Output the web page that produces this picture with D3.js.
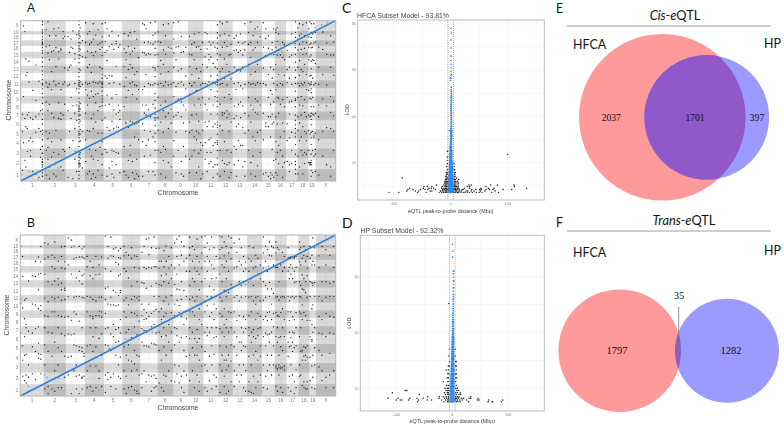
<!DOCTYPE html>
<html><head><meta charset="utf-8">
<script src="https://cdn.jsdelivr.net/npm/d3@7/dist/d3.min.js"></script>
<style>html,body{margin:0;padding:0;background:#fff}svg{display:block}text{font-family:"Liberation Sans",Arial,sans-serif}</style>
</head><body><svg id="c" width="784" height="428"></svg>
<script>
const chromLabels=["1","2","3","4","5","6","7","8","9","10","11","12","13","14","15","16","17","18","19","X"];
const chromEdgesA=[0,70,135,192,249,304,358,410,457,502,548,593,636,679,724,762,796,830,863,885,945];
const chromEdgesB=[0,70,137,194,251,306,360,412,459,504,550,595,638,681,726,764,800,835,868,888,947];
// rows: [peak position, probe positions...] in chromosome-label units
const transA=[
[0.58,7.2,1.4,5.3],[0.62,20.0,9.4,4.1],[0.68,19.3,6.7,2.3],[0.72,14.4,12.2,5.8,1.7],[0.78,12.6,7.1,3.2,5.6],[0.85,11.3,14.1,7.4,4.3],[0.92,3.3,2.7,4.6,6.8],[1.02,10.2,6.6,4.2,1.3],[1.15,13.6,8.9,6.9,5.2,1.1],[1.28,11.4,7.2,5.6,0.8],[1.35,5.3,3.4,7.6,2.6],
[1.43,20.4,20.1,19.6,19.2,18.7,18.1,17.6,17.2,17.0,16.9,16.7,16.2,15.7,15.3,14.6,14.0,13.4,12.8,12.3,11.6,11.1,10.9,10.4,9.8,9.3,8.5,7.7,7.2,6.6,6.1,5.4,5.0,4.4,3.7,3.0,2.4,2.2,2.1,1.9,1.7,1.4,1.2,0.9],
[1.6,19.6,16.4,11.2,8.7,5.3,3.3,1.0],[1.68,20.4,15.3,10.6,7.6,4.5,3.6,2.4],[1.75,18.3,16.6,14.3,11.0,8.4,5.1,1.7,0.7],[1.85,15.5,12.7,10.3,7.3,4.2,2.6],[1.95,19.7,15.7,11.4,6.8,3.1,1.1],[2.05,18.3,16.2,13.4,10.9,5.4,0.9],[2.18,19.8,15.5,14.4,11.1,8.6,6.7,2.9],[2.28,16.0,15.8,10.3,7.3,6.6,4.4,1.7],[2.38,19.3,17.8,11.0,7.1,3.4,1.4],[2.45,18.2,13.2,11.3,8.4,3.2],
[2.62,18.2,12.9,10.8,7.6,0.8],[2.7,15.4,13.3,11.0,5.3,3.6],[2.78,17.7,16.3,13.6,9.3,6.7],[2.88,19.5,16.1,8.2,4.3,0.7],[2.98,15.2,14.4,11.1,7.3,5.6,2.4],[3.08,18.5,10.4,8.3,6.5,3.1,1.3],
[3.2,20.5,20.1,19.5,18.9,18.4,17.8,17.1,16.5,16.1,15.6,15.0,14.5,13.9,13.1,12.6,12.0,11.5,11.2,11.0,10.8,10.4,9.9,9.2,8.7,8.3,8.1,7.9,7.7,7.5,7.2,7.0,6.6,6.2,5.8,5.3,5.1,4.9,4.6,4.2,3.7,3.2,2.9,2.6,2.3,2.1,2.0,1.9,1.7,1.3,1.0,0.7],
[3.26,19.8,18.2,17.0,15.9,14.9,12.9,11.3,10.7,8.5,7.8,7.1,6.4,5.5,5.0,4.3,3.1,2.5,2.0,1.8],
[3.38,17.4,14.7,11.0,5.3,1.6],[3.55,20.3,17.1,14.6,11.2,10.3,7.3,4.4,2.2],[3.65,18.7,15.6,13.3,11.0,9.6,8.3,5.4,1.1],[3.75,19.3,16.8,13.7,11.1,9.2,5.3,3.4,1.3],[3.85,17.1,15.4,12.6,10.1,6.7,2.7,0.7],[3.95,20.2,17.7,14.9,11.3,9.4,7.2,5.6,2.4,1.1],[4.08,18.4,15.5,11.2,9.7,8.6,6.3,3.3,0.8],[4.2,19.6,16.7,11.1,9.8,7.6,5.1,2.3,1.4],[4.3,17.0,15.9,13.3,11.3,8.1,4.3,3.6],
[4.42,20.2,18.1,17.2,16.3,14.9,13.1,12.3,11.8,11.3,11.1,11.0,10.6,10.1,9.5,9.1,8.7,8.2,6.5,5.1,4.2,2.9,1.9,1.0],
[4.58,20.3,17.3,15.4,12.1,8.3,6.8,3.4],[4.68,19.7,15.7,14.2,11.8,9.6,5.7,3.1,0.9],[4.8,18.3,16.4,12.2,11.1,8.4,5.4,1.6],[4.95,19.4,16.8,12.1,9.2,6.4,3.3,2.2,1.1],[5.05,15.9,11.2,7.7,5.6,3.2,0.8],[5.18,17.3,16.9,13.4,9.7,7.2,3.1,1.9],[5.3,18.3,16.3,8.3,7.4,5.7,3.0],[5.38,16.7,11.0,7.6,6.6,1.2],
[5.62,18.8,16.0,13.4,10.7,8.1,3.7,1.3],[5.72,15.4,14.3,11.9,9.3,6.2,1.0],[5.85,18.3,16.4,13.0,10.2,5.7,2.3,0.8],[5.95,19.0,15.1,13.7,11.1,6.4,3.8,2.8],[6.08,15.6,13.2,11.3,9.7,6.3,2.2,1.2],[6.2,19.3,16.1,12.3,10.9,6.1,4.7,0.7],[6.32,17.7,12.7,10.8,9.1,6.2,2.4,1.1],[6.42,14.6,10.3,6.3,4.4,0.9],
[6.65,20.2,15.4,10.3,8.3,6.1,4.2,0.9],[6.75,20.1,17.1,15.3,10.7,7.3,5.4,2.7],[6.85,19.7,15.0,12.3,8.3,7.1,3.8],[6.98,17.2,15.2,11.1,7.7,4.4,1.3],[7.1,20.3,17.0,15.1,10.9,6.9,5.3,2.8],[7.25,18.4,16.8,13.3,10.9,8.4,4.7,1.3],
[7.37,20.4,18.9,17.2,16.1,15.0,13.2,12.9,12.0,11.1,9.8,8.9,7.9,7.2,6.8,6.5,5.9,5.1,4.2,3.3,2.1,1.0],
[7.55,19.2,17.3,15.1,13.4,11.0,9.3,6.8,5.4,3.3],[7.72,17.1,14.2,12.4,11.1,8.3,6.3,3.1,1.1],[7.88,20.1,15.8,13.7,10.8,7.6,5.2,3.7,2.3],[8.02,18.3,15.1,11.3,8.8,6.9,3.4,0.8],[8.2,20.2,16.3,12.7,10.9,7.3,5.6,2.1],[8.38,16.1,11.0,7.8,6.2,1.7],
[8.55,20.3,17.7,15.3,13.3,11.2,9.4,6.9,4.3,2.7],[8.7,16.3,14.3,10.7,8.8,7.1,5.2,1.2],[8.85,20.4,16.4,12.8,11.1,9.1,7.4,3.3],[9.05,18.2,15.4,13.1,11.3,8.7,6.9,2.2,1.1],[9.2,15.5,10.9,8.3,6.2,3.7,0.9],[9.35,16.3,12.1,10.4,7.7,5.3,2.7],
[9.6,18.2,15.1,13.4,11.1,9.7,6.3,5.2,2.4,1.2],[9.75,16.8,15.0,12.3,10.8,7.1,5.4,2.7],[9.9,18.7,17.1,14.3,11.2,8.3,4.7,3.3],[10.05,16.3,13.1,10.2,7.2,5.3,4.4,1.2],[10.2,19.1,16.4,11.8,9.1,6.4,5.1,3.0,1.7],[10.33,15.9,12.7,10.9,8.3,4.1,3.3,0.7],[10.45,17.1,13.7,11.1,9.3,5.4,3.8,1.1],
[10.62,19.1,14.7,11.1,8.4,6.3,4.1,2.4],[10.75,18.7,16.0,13.3,10.9,7.7,5.8,3.1,1.3],[10.88,17.2,15.1,14.3,11.3,9.1,6.4,4.4,2.0],[11.0,16.7,14.7,12.1,10.3,7.2,4.6,3.1,2.2],[11.15,17.1,13.8,11.2,8.3,5.8,3.8,1.7,0.8],[11.28,16.3,13.3,11.1,9.4,6.1,4.1,1.9],
[11.43,20.1,19.0,17.9,17.0,16.1,15.2,14.3,13.1,12.2,11.6,11.2,10.9,10.1,9.3,8.8,8.1,7.2,6.3,6.0,5.7,5.0,4.3,4.1,3.9,3.3,2.5,1.9,1.1],
[11.62,20.4,18.3,15.0,12.7,11.0,8.4,5.9,3.3,0.9],[11.78,20.2,16.3,13.1,11.1,7.4,7.1,5.4,2.3],[11.92,18.7,17.1,14.4,11.8,9.3,7.3,4.2,2.0,1.3],[12.1,20.4,16.4,13.7,10.9,7.6,6.8,3.3,1.9],[12.25,18.3,15.0,12.7,9.7,7.2,5.3,2.1,0.8],[12.38,16.8,15.1,11.7,9.1,6.3,3.1,1.2],
[12.6,17.8,15.7,13.3,11.1,8.2,6.7,3.7,1.9],[12.75,18.3,15.8,12.9,10.3,7.0,5.8,3.4,0.9],[12.9,17.1,15.4,13.0,11.2,8.4,6.1,4.3,2.3],[13.05,18.7,15.7,12.8,10.8,8.7,6.8,3.8],[13.2,17.0,15.0,13.3,10.4,8.2,5.7,3.8,1.7],[13.35,20.2,17.2,15.8,11.0,7.3,5.1,2.2,0.9],
[13.6,19.1,16.8,13.7,11.2,9.3,7.0,5.4,3.3],[13.75,20.4,17.1,14.6,12.3,11.0,8.3,6.3,2.1,1.1],[13.9,18.3,15.8,11.1,7.7,4.7,2.7],[14.05,19.7,16.2,12.7,10.9,9.1,7.4,4.3,0.9],[14.2,19.9,17.1,13.7,11.2,8.8,7.2,5.2,1.8],[14.38,18.1,14.3,11.1,8.3,5.4,3.1],
[14.6,20.3,16.3,13.2,11.1,7.3,4.4,1.1],[14.8,19.7,17.8,14.9,10.9,6.2,5.8,1.2],[15.0,18.3,16.1,12.3,9.3,6.9,5.8,0.9],[15.18,15.1,13.3,10.2,8.4,6.9,4.7,1.2,0.7],[15.3,17.1,15.8,11.8,9.7,7.2,6.1,3.4,1.0],[15.42,19.7,15.1,13.0,11.1,8.7,6.3,2.3,0.8],
[15.6,19.6,19.1,16.3,13.7,10.3,6.9,4.2,2.4,1.2],[15.72,19.8,17.3,15.0,10.9,9.3,6.1,3.1,1.0],[15.85,18.7,15.7,12.3,9.2,7.3,3.8,2.0],[16.0,15.0,11.1,8.4,4.7,3.3],[16.2,17.1,14.6,10.9,9.0,6.2,2.7,1.7,0.8],[16.35,16.8,14.3,12.2,8.1,5.3,2.1],
[16.6,15.7,13.0,11.2,9.3,6.1,4.3,2.2],[16.8,14.7,13.3,11.8,8.7,7.2,4.6,1.9,1.3],[17.0,18.7,15.0,11.0,8.8,5.2,3.3,2.0],
[17.33,20.4,19.1,18.0,17.3,16.9,16.2,15.1,14.0,12.9,11.9,11.1,10.1,9.1,8.9,8.1,7.1,6.5,6.0,5.6,5.1,4.7,3.9,2.9,2.2,1.9,1.5,1.1],
[17.55,19.8,17.7,15.8,13.3,11.1,9.3,6.9,5.4,2.7,1.1],[17.7,20.2,18.3,16.8,14.2,12.2,10.8,8.3,6.2,4.3,1.7],[17.85,18.7,15.9,13.0,11.1,9.4,7.1,4.7,3.3],[18.0,20.1,17.2,15.1,12.7,10.9,8.2,5.8,2.8,1.1],[18.15,18.3,16.1,13.7,11.2,9.0,7.4,5.3,3.1,2.0],[18.32,20.3,17.1,15.2,12.3,10.3,6.9,5.1,4.3,2.9],
[18.55,19.7,18.1,16.3,14.3,11.1,10.2,7.1,5.4,3.3,2.1],[18.72,20.4,16.8,14.7,12.1,10.9,9.2,6.9,5.0,2.1,2.0,1.9],[18.88,20.2,19.1,18.0,17.0,16.2,15.0,14.1,13.1,12.2,11.3,11.0,10.4,9.9,9.1,8.1,7.3,7.0,6.6,6.0,5.2,4.6,3.9,2.9,2.3,2.1,1.9,1.4,0.9],
[19.08,18.7,16.3,14.3,11.8,9.3,7.2,5.3,3.3,1.2],[19.25,20.2,17.0,14.2,10.9,8.1,7.1,4.8,4.6,2.7],[19.45,19.1,17.2,13.8,11.1,7.3,5.1,3.4,2.9,1.3],
[19.65,16.3,13.3,11.0,8.3,6.9,4.4,1.0],[19.85,19.2,15.9,12.3,9.1,5.3,2.7],[20.05,17.0,15.1,10.9,8.2,5.7,1.9],[20.25,18.3,15.0,13.3,9.4,7.4,5.6,1.7,0.9],[20.4,17.2,15.0,12.2,8.8,7.0,5.3,3.3]
];
const transB=[
[0.52,19.1,11.0,10.4,6.7,5.3],[0.6,17.1,14.0,9.8,5.3,3.8,2.2],[0.68,10.8,8.4,6.3,4.3,1.8],[0.75,11.0,7.7,7.3,4.4,2.3,1.6],[0.85,13.4,6.9,3.3,2.1],[1.02,14.1,10.3,6.7,5.2,2.4],[1.15,16.3,14.0,10.2,7.2,4.7,1.9],[1.28,17.0,14.3,12.2,9.7,7.4,5.6,4.5,4.0],[1.38,19.1,16.2,14.4,10.1,9.5,4.4,3.9,2.4],
[1.55,19.7,16.7,14.3,11.1,8.8,7.3,5.4,3.3,1.1],[1.7,19.6,17.0,13.3,10.6,8.7,6.8,4.7,1.3,0.7],[1.88,17.3,15.4,12.9,11.2,9.3,6.7,4.2,1.1],[2.0,19.8,16.9,15.1,13.4,11.0,9.3,5.7,2.7,0.9],[2.15,16.3,13.7,12.9,11.2,8.8,7.3,5.1,3.3,1.2],[2.3,19.0,17.1,15.2,13.1,12.2,10.8,8.7,6.6,4.7,1.2],[2.45,19.1,16.2,15.1,12.4,12.1,10.9,8.6,6.4,4.2,2.1],
[2.62,20.2,15.7,11.3,8.7,6.6,4.1,2.3],[2.78,20.0,18.9,14.3,8.2,6.5,4.2,0.7],[2.92,19.2,16.7,11.2,9.3,6.6,5.4,2.7],[3.05,16.9,13.8,11.3,9.0,5.3,3.3,2.2,1.1],[3.2,19.1,17.0,14.7,13.4,11.3,8.1,5.2,4.8,2.3,0.7],[3.35,18.4,17.0,14.1,13.0,11.2,7.3,5.1,4.7,2.1,2.0,1.1],[3.45,19.0,16.8,14.3,11.1,4.5,4.2,2.2],
[3.62,17.1,15.4,11.3,9.3,5.3,2.7,1.2],[3.78,16.3,14.1,11.2,8.8,7.3,5.4,3.2,1.3],[3.92,15.3,13.7,10.9,8.7,8.4,6.3,4.7,0.9],[4.08,17.1,14.2,10.7,8.8,7.3,5.2,3.2,1.2],[4.25,15.7,14.3,11.2,9.4,8.8,6.1,2.7,2.0],[4.38,17.0,11.2,9.3,8.6,6.6,4.3,1.3],
[4.58,20.4,15.1,12.4,10.9,9.1,7.2,5.4,2.3,0.8],[4.72,19.1,16.8,12.6,10.3,7.3,5.3,2.5,1.9],[4.88,20.3,17.2,14.7,11.2,10.2,6.6,4.8,2.1,1.3],[5.02,18.4,17.1,12.1,10.2,7.7,6.3,2.4],[5.15,18.7,16.1,11.8,10.1,7.1,5.7,4.3,1.1],[5.3,18.1,16.9,15.8,14.1,11.4,10.2,7.3,5.8,3.3,2.2],[5.4,18.5,16.8,14.3,12.1,11.8,8.3,6.7,4.1,2.0],
[5.6,19.1,17.2,15.1,10.8,9.3,5.2,2.7,1.1],[5.72,17.8,14.7,11.1,8.6,6.8,4.3,2.2,0.7],[5.85,17.3,13.8,10.2,7.1,5.4,3.8,1.2],[6.02,18.7,16.8,12.7,10.9,9.2,6.2,3.7,2.7,1.3],[6.18,17.2,15.3,11.3,9.1,7.4,4.8,3.4,1.0],[6.32,17.1,13.3,11.1,8.8,6.5,4.3,2.8,0.9,0.7],[6.44,15.2,11.3,10.8,8.1,4.2,2.3,0.7],
[6.6,17.8,13.2,10.3,8.8,7.2,5.7,2.4,1.2],[6.72,19.1,15.3,13.1,9.6,8.3,7.0,5.3,2.7],[6.85,20.1,15.1,12.4,9.2,8.4,6.8,5.3,1.7],[7.0,20.2,17.4,15.3,10.3,8.7,5.2,2.3],[7.15,18.7,15.2,12.7,9.1,7.4,5.6,2.2,0.9],[7.3,20.3,15.4,11.3,9.4,7.7,5.5,2.3,1.2],[7.42,18.5,15.4,13.1,9.6,6.7,5.4,2.0,1.3],
[7.6,18.6,16.3,15.2,12.9,11.3,9.3,6.8,4.8,1.6],[7.75,16.3,14.1,12.8,9.7,8.3,6.3,3.8,1.2],[7.9,18.1,15.4,13.3,10.7,8.7,7.3,5.2,2.3,0.9],[8.05,19.2,16.3,14.3,11.2,9.1,6.4,4.3,2.2],[8.22,17.1,15.2,13.1,10.3,7.7,5.7,2.7],[8.38,18.7,15.7,13.7,11.4,9.2,6.8,4.8,1.8],
[8.6,19.7,15.2,12.9,10.3,8.8,7.3,5.4,3.3,1.7],[8.75,20.1,17.1,14.3,12.3,10.8,7.2,6.4,2.4],[8.9,20.4,15.7,12.2,10.1,9.2,5.7,3.2,1.6],[9.05,19.8,17.3,13.3,10.9,8.7,6.2,2.2,1.2],[9.22,19.1,16.3,12.1,9.3,7.7,4.8,2.7,0.8],[9.38,16.8,14.7,11.3,9.4,8.4,6.3,4.2,2.3],
[9.6,20.3,18.7,17.3,14.7,12.8,10.9,9.4,7.3,6.1,4.3,1.8],[9.78,19.1,16.3,13.7,11.2,9.3,6.8,5.1,2.7],[9.92,18.3,15.2,13.3,10.7,8.8,6.1,4.3,1.2],[10.08,20.1,17.1,14.7,11.3,7.1,5.7,4.3,2.3],[10.22,16.2,14.3,12.2,9.7,8.3,6.1,3.8,1.7,0.9],[10.38,20.3,17.7,15.2,13.3,10.3,7.7,5.2,3.2],
[10.6,20.4,18.8,16.3,13.7,10.7,9.3,6.8,4.7,3.3,1.2],[10.75,19.7,17.1,14.7,11.3,10.1,7.3,6.4,2.7,0.9],[10.9,18.3,16.3,12.7,10.9,8.7,6.8,4.2,1.8],[11.05,20.3,15.7,13.7,11.2,9.2,7.3,5.3,3.3,1.1],[11.2,18.7,15.1,12.2,10.3,8.3,6.2,4.4,2.3],[11.35,17.1,13.8,11.3,9.7,7.3,6.3,2.1,1.3],
[11.6,20.4,18.3,16.8,14.3,11.2,9.1,7.2,5.3,3.3,0.8],[11.75,20.3,18.7,15.7,13.3,10.7,8.7,6.8,4.3,2.7],[11.9,19.8,17.2,15.3,12.1,9.7,7.7,6.3,3.8,2.2,1.3],[12.05,19.1,16.3,13.7,11.3,8.3,7.3,5.2,3.8,2.8,0.7],[12.2,20.4,17.7,14.7,11.8,9.3,6.8,4.3,3.2,0.9],[12.38,20.2,18.7,16.7,12.9,9.2,7.3,5.4,3.7,1.7],
[12.6,19.7,15.2,11.2,9.3,6.8,5.2,2.7,1.3],[12.78,17.8,15.4,11.4,8.2,6.3,4.3,2.3],[12.95,20.1,16.3,13.3,10.7,8.8,5.7,3.3,1.7],[13.1,18.7,15.7,12.8,11.2,7.3,5.7,4.8,2.3],[13.25,17.1,14.7,13.3,8.7,6.8,5.3,3.3,1.2],[13.4,16.2,15.1,11.3,8.3,7.2,5.2,2.7,0.9],
[13.62,19.2,16.7,14.7,11.2,8.8,7.3,6.4,4.2,1.7,0.9],[13.78,16.3,13.7,11.3,9.3,6.8,5.7,3.3,0.8],[13.92,18.7,15.2,12.8,10.7,7.1,6.3,4.3,2.2,0.7],[14.08,17.3,15.4,11.2,10.3,8.3,6.1,4.7,1.2],[14.22,16.8,14.3,11.3,9.1,7.2,6.4,3.8,1.7],[14.38,15.7,13.7,10.7,8.7,7.3,5.3,4.2,2.3],
[14.6,20.3,17.7,15.2,13.3,10.8,8.3,6.3,3.3,1.2],[14.78,19.2,16.3,12.8,11.2,8.7,6.7,5.3,2.2],[14.92,18.3,14.7,12.3,9.2,8.2,6.5,4.3,2.7,1.1],[15.08,19.8,17.3,13.2,11.3,9.3,6.6,5.7,3.3],[15.25,19.1,17.2,12.3,10.3,8.3,6.8,4.3,2.3],[15.4,18.7,15.7,11.7,9.1,7.4,5.3,3.3],
[15.6,19.8,17.7,15.3,11.2,9.2,6.3,3.2,3.0,1.3],[15.72,18.7,15.3,11.3,8.8,7.3,5.7,2.9,2.8,0.9],[15.85,18.3,13.3,10.8,8.7,6.2,4.3,3.3,3.0,2.3],[16.0,15.7,11.2,9.2,6.3,5.2,3.1,2.9,1.2],[16.15,17.8,14.7,11.3,9.7,7.3,4.8,3.0,0.8],[16.3,17.1,15.3,11.2,8.3,6.3,3.2,2.8],
[16.62,18.7,16.8,14.7,11.3,9.3,5.7,4.2,1.2],[16.72,16.9,16.8,15.3,13.7,10.7,8.2,6.8,5.2,2.2],[16.85,17.0,16.9,15.7,14.3,11.2,9.3,6.2,5.3,3.3,0.9],[17.0,17.1,16.9,15.2,13.7,11.3,8.7,6.8,5.7,4.7,2.3],[17.15,17.0,16.8,14.7,13.2,11.1,8.3,6.7,5.1,1.7,0.7],[17.3,17.1,15.3,13.3,11.3,9.2,7.3,5.3,2.8,1.2],
[17.6,19.8,18.3,16.2,13.3,11.3,9.3,6.3,3.3,2.2],[17.72,18.7,15.7,12.8,11.2,9.1,7.3,4.7,2.3],[17.85,16.8,14.2,12.3,10.2,8.3,4.8,3.8,1.4],[18.0,19.1,17.3,13.7,12.2,9.2,5.2,4.2,1.7,1.2],[18.15,18.3,16.3,13.3,11.8,8.8,5.1,4.3,3.8,1.1],[18.3,17.1,15.2,14.1,11.2,8.2,5.3,4.1,1.7,1.1],
[18.6,19.1,16.8,13.3,11.3,8.2,6.3,4.1,1.8],[18.88,17.3,15.7,13.2,9.7,7.7,6.0,5.8,3.2,1.2],[19.02,20.2,16.3,13.1,12.8,10.2,6.8,4.3,2.1],[19.3,18.7,15.7,13.2,11.3,7.3,5.1,3.3,1.1],
[19.65,17.2,15.3,11.3,8.7,6.7,4.8,3.1],[19.8,19.1,13.3,10.7,8.3,6.6,4.3,2.7,1.8],[20.0,18.3,15.7,13.3,11.2,9.1,6.3,2.1,1.2],[20.2,17.3,13.1,11.3,8.7,6.7,4.5,2.3],[20.4,19.1,15.3,13.3,11.3,8.6,6.6,2.7,1.2]
];
const cisLine=[[0.5,0.5],[20.5,20.5]];
const cisOffA=[[0.55,1.02],[0.85,1.3],[1.0,1.0],[1.25,0.62],[1.55,2.5],[2.0,1.9],[2.15,1.6],[3.0,3.2],[3.25,4.2],[3.22,2.75],[3.25,2.9],[5.2,5.8],[5.7,6.3],[6.1,6.0],[5.95,5.85],[6.9,7.05],[7.35,6.7],[7.45,6.75],[7.35,7.4],[9.0,9.2],[11.1,11.3],[13.1,13.0],[13.4,12.95],[14.3,14.3],[15.1,15.2],[16.1,15.6],[17.3,16.9],[19.4,19.8],[19.8,20.1],[20.0,19.95],[20.1,20.3]];
const cisOffB=[[0.85,1.3],[1.55,2.3],[1.65,2.1],[2.2,2.0],[2.95,2.9],[4.75,4.85],[4.8,5.05],[5.85,5.9],[5.7,6.05],[6.85,7],[7.2,6.8],[7.75,8.0],[9.1,8.8],[9.6,9.6],[11.0,11.3],[13.4,12.9],[13.6,13.2],[15.0,15.5],[15.7,16.5],[17,17],[18.4,17.7],[19.4,19.4],[20,20.4]];
// rows: [LOD, distance...]
const transC=[
[7.2,-108,-91,-58,-43,-20,-16,-13,-10,-8,-6,7,9,12,14,18,22,25,29,33,38,45,50,55,72,84],
[7.8,-77,-62,-56,-36,-33,-18,-15,-12,-9,-7,8,10,13,16,19,27,30,36,41,52,60,78],
[8.4,-75,-66,-53,-45,-40,-27,-14,-11,-8,-6,6,8,11,15,20,22,37,44,51,54,62,68,74,92,107],
[9,-72,-48,-38,-34,-30,-16,-12,-9,-7,7,9,12,14,24,33,53,66,76,133],
[9.7,-47,-41,-33,-15,-10,-8,-6,6,8,10,13,29,33,62,112],
[10.4,-25,-12,-9,-7,7,9,13,32,36,70,82,111],
[11.2,-11,-9,-7,-6,6,8,11,14],[12,-10,-8,-6,7,9,12],[12.8,-9,-7,6,8,14],[13.4,-85,-8,-6,6,10],[14.2,-9,-7,6,8],[15,-7,-6,7],[15.8,-8,-6,6,8],[17,-6,6,7],[18.4,-7,6],[19.6,-6,6],[21,-6],[22.5,-6],[25,-6,-5],[23.6,100]
];
const cisC=[
[7.2,-4.6,-3.8,-3,-2.2,-1.4,-.6,.2,1,1.8,2.6,3.4,4.2,5],[7.8,-4.8,-4,-3.2,-2.4,-1.6,-.8,0,.8,1.6,2.4,3.2,4,4.8],[8.4,-4.6,-3.8,-3,-2.2,-1.4,-.6,.2,1,1.8,2.6,3.4,4.2,5],[9,-4.4,-3.4,-2.3,-1.2,0,1.2,2.3,3.4,4.4],[9.6,-4.6,-3.6,-2.7,-1.8,-.9,0,.9,1.8,2.7,3.6,4.6],[10.2,-4.2,-3.2,-2.1,-1,0,1,2.1,3.2,4.2],[10.8,-4.1,-3,-1.9,-.9,.2,1.2,2.2,3.2,4.1],[11.4,-4,-2.9,-1.8,-.7,.3,1.4,2.5,3.6],[12,-3.8,-2.7,-1.6,-.5,.6,1.7,2.7,3.7],[12.6,-3.6,-2.6,-1.5,-.4,.7,1.8,2.9,3.8],[13.2,-3.5,-2.4,-1.2,-.2,.9,2,3.1],[13.8,-3.3,-2.2,-1,0,1.1,2.2,3.4],[14.4,-3.1,-2,-.9,.2,1.3,2.4,3.4],[15,-3,-1.9,-.7,.4,1.5,2.6],[15.6,-3,-1.8,-.6,.5,1.6,2.8],[16.2,-2.8,-1.6,-.4,.7,1.8,3],[16.8,-2.7,-1.4,-.2,.9,2,3.1],[17.4,-2.6,-1.3,0,1.1,2.2,3],[18,-2.4,-1.2,.1,1.3,2.4,3.1],[18.6,-2.3,-1,.2,1.4,2.6],[19.2,-2.2,-.9,.3,1.5,2.7],[19.8,-2.1,-.8,.4,1.7,2.5],[20.4,-2,-.6,.6,1.8,2.6],[21,-1.9,-.5,.7,1.9],[21.6,-1.8,-.4,.8,2],[22.2,-1.7,-.3,.9,2.1],[22.8,-1.6,-.2,1,2.2],[23.4,-1.5,-.1,1.1,2.1],[24,-1.4,0,1.2,2.2],[24.6,-1.3,.1,1.3,2],[25.2,-1.2,.2,1.4,2.1],[25.8,-1.1,.3,1.5],[26.4,-1,.4,1.6],[27,-1.2,0,.5,1.7],[27.7,-.8,.6,1.7],[28.4,-.7,.7,1.8],[29.1,-.6,.8,1.9],[29.8,-.5,.9,1.7],[30.5,-.4,1,2],[31.2,-.3,1.1,1.8],[31.9,-.2,1.2,2.1],[32.6,-.1,1.3],[33.3,0,1.4,1.9],[33.9,-1.8,-.9,0,.5,1.7,2.4],[34.7,.1,1.5],[35.5,.2,1.6],[36.3,.3,1.7],[37.1,.4,1.8],[37.9,.5,1.6],[38.7,.6,1.5],[39.5,.7,1.3],[40.3,.2,1.2],[41.1,.4,1.4],[41.9,.3,1.5],[42.7,.5,1.2],[43.5,.2,1.3],[44.3,.6,1.4],[45.1,.4,1.2],[45.9,.7,1.5],[46.7,.5,1.1],[47.5,.8,1.4],[48.3,.6,1.3],[49.1,.9,1.5],[49.9,.7,1.2],[50.7,.9,1.4],[51.5,.8,1.2],[52.6,1,1.3],[55.5,-.8],[56.5,-.4,.5],[57.5,.2],[58.2,1],[59.5,.6],[61,.3],[62.5,.5],[64,.6],[66,.4],[69.5,.7],[73,.4],[76,.9],[78,.5]
];
const transD=[
[7.6,-62,-15,-9,-6,7,10,14,29,64,71,72,88],[7.9,-100,-93,-90,-78,-60,-45,-37,-19,-12,-8,-6,6,9,13,18,26,45,48,65,90],[8.2,-115,-97,-76,-63,-52,-24,-14,-10,-7,6,8,11,16,20,30,33,46],[8.5,-44,-23,-16,-11,-7,6,9,12,33],[8.9,-59,-12,-8,-6,7,12,15],[9.2,-107,-14,-9,-7,6,9,14],[9.6,-84,-81,-11,-8,-6,8,11],[10,-13,-9,-7,6,9],[10.5,-10,-7,-6,7],[11.2,-16,-8,-6,6],[11.9,-9,-7,6,8],[12.6,-8,-6,6,7],[13.3,-11,-7,7],[14,-7,-5,6,7],[14.8,-5,6,7],[15.8,-6,5],[17,-5,5],[25.2,-6]
];
const cisD=[
[7.6,-3.6,-2.6,-1.6,-.6,.4,1.4,2.4,3.4],[7.9,-3.2,-2.2,-1.2,-.2,.8,1.8,2.8,3.8],[8.2,-3.6,-2.6,-1.6,-.6,.4,1.4,2.4,3.4],[8.5,-3.2,-2.2,-1.2,-.2,.8,1.8,2.8],[8.8,-3.4,-2.4,-1.4,-.4,.6,1.6,2.6,3.6],[9.1,-3,-2,-1,0,1,2,3],[9.4,-3.3,-2.3,-1.3,-.3,.7,1.7,2.7],[9.7,-2.9,-1.9,-.9,.1,1.1,2.1,3.1],[10,-3.2,-2.2,-1.2,-.2,.8,1.8,2.8],[10.3,-2.8,-1.8,-.8,.2,1.2,2.2,3.2],[10.6,-3,-2,-1,0,1,2,3],[10.9,-2.6,-1.6,-.6,.4,1.4,2.4,3.2],[11.2,-2.8,-1.8,-.8,.2,1.2,2.2,3],[11.5,-2.4,-1.4,-.4,.6,1.6,2.6,3.3],[11.8,-2.6,-1.6,-.6,.4,1.4,2.4],[12.1,-2.2,-1.2,-.2,.8,1.8,2.8],[12.4,-2.4,-1.4,-.4,.6,1.6,2.6,3.2],[12.7,-2,-1,0,1,2,3],[13,-2.2,-1.2,-.2,.8,1.8,2.8],[13.3,-1.8,-.8,.2,1.2,2.2,3.1],[13.6,-2,-1,0,1,2,3],[13.9,-1.6,-.6,.4,1.4,2.4],[14.2,-1.8,-.8,.2,1.2,2.2,3.2],[14.5,-1.4,-.4,.6,1.6,2.6],[14.8,-1.6,-.6,.4,1.4,2.4],[15.1,-1.2,-.2,.8,1.8,2.8],[15.4,-1.4,-.4,.6,1.6,2.6],[15.7,-1,0,1,2,3],[16,-1.2,-.2,.8,1.8,2.8],[16.3,-.8,.2,1.2,2.2],[16.6,-1,0,1,2,2.8],[16.9,-.6,.4,1.4,2.4],[17.2,-.8,.2,1.2,2.2],[17.5,-.4,.6,1.6,2.6],[17.8,-.6,.4,1.4,2.4],[18.1,-.2,.8,1.8,2.6],[18.4,-.4,.6,1.6,2.4],[18.7,0,1,2,2.8],[19,-.2,.8,1.8,2.6],[19.3,.2,1.2,2.2],[19.6,0,1,2],[19.9,.4,1.4,2.4],[20.3,.2,1.2,2.2],[20.7,.6,1.6,2.6],[21.1,.4,1.4,2.2],[21.5,.8,1.8],[21.9,.6,1.6,2.4],[22.3,1,2],[22.7,.8,1.8],[23.1,1.2,2.2],[23.5,1,1.8],[23.9,1.4,2.3],[24.3,1.2,2],[24.7,1.6],[25.1,1.3,2.1],[25.6,1.7],[26,1.4,2.2],[26.4,1.8],[26.8,1.5,2.4],[27.4,2],[28,1.6,2.7],[28.6,2.1],[29.2,1.8,3],[29.9,2.2],[30.5,2],[31,1.6,2.8],[33.5,.5],[34.6,1],[35.8,.2]
];
const vennE={a:2037,both:1701,b:397};
const vennF={a:1797,both:35,b:1282};
const xTicksLod=[-100,0,100];
const yTicksC=[20,40,60,80];
const yTicksD=[10,20,30];

const svg=d3.select("#c");
const defs=svg.append("defs");
defs.append("filter").attr("id","soft").attr("x","-2%").attr("y","-2%").attr("width","104%").attr("height","104%")
  .append("feGaussianBlur").attr("stdDeviation",0.3);
const G="#7f7f7f";
function chromPanel(o){
  const g=svg.append("g").attr("filter","url(#soft)");
  const k=(o.x1-o.x0)/o.edges[20], ky=(o.y0-o.y1)/o.edges[20];
  const dom=d3.range(21).map(i=>i+0.5);
  const x=d3.scaleLinear().domain(dom).range(o.edges.map(v=>o.x0+v*k));
  const y=d3.scaleLinear().domain(dom).range(o.edges.map(v=>o.y0-v*ky));
  g.append("rect").attr("x",o.x0).attr("y",o.y1).attr("width",o.x1-o.x0).attr("height",o.y0-o.y1).attr("fill","#fff");
  d3.range(1,21).forEach(i=>{
    g.append("line").attr("x1",x(i)).attr("x2",x(i)).attr("y1",o.y1).attr("y2",o.y0).attr("stroke","#e8e8e8").attr("stroke-width",.4);
    g.append("line").attr("y1",y(i)).attr("y2",y(i)).attr("x1",o.x0).attr("x2",o.x1).attr("stroke","#e8e8e8").attr("stroke-width",.4);
    if(i%2==0) g.append("rect").attr("x",x(i-.5)).attr("y",o.y1).attr("width",x(i+.5)-x(i-.5)).attr("height",o.y0-o.y1).attr("fill","#000").attr("fill-opacity",.14);
    if(i%2==1) g.append("rect").attr("x",o.x0).attr("y",y(i+.5)).attr("width",o.x1-o.x0).attr("height",y(i-.5)-y(i+.5)).attr("fill","#000").attr("fill-opacity",.14);
  });
  const pts=o.rows.flatMap(r=>r.slice(1).map(v=>[r[0],v]));
  g.selectAll(null).data(pts).join("circle").attr("cx",d=>x(d[0])).attr("cy",d=>y(d[1])).attr("r",.66).attr("fill","#111");
  g.append("path").attr("d",d3.line().x(d=>x(d[0])).y(d=>y(d[1]))(cisLine)).attr("stroke","#2b80d8").attr("stroke-width",1.5).attr("fill","none");
  g.selectAll(null).data(o.off).join("circle").attr("cx",d=>x(d[0])).attr("cy",d=>y(d[1])).attr("r",.7).attr("fill","#3f92e6");
  g.append("rect").attr("x",o.x0).attr("y",o.y1).attr("width",o.x1-o.x0).attr("height",o.y0-o.y1).attr("fill","none").attr("stroke","#b4b4b4").attr("stroke-width",1);
  chromLabels.forEach((t,i)=>{
    g.append("text").attr("x",x(i+1)).attr("y",o.y0+5.8).attr("text-anchor","middle").attr("font-size",4.6).attr("fill",G).text(t);
    g.append("text").attr("x",o.x0-2).attr("y",y(i+1)+1.6).attr("text-anchor","end").attr("font-size",4.6).attr("fill",G).text(t);
  });
  g.append("text").attr("x",178).attr("y",o.y0+14.3).attr("text-anchor","middle").attr("font-size",6.8).attr("fill","#444").text("Chromosome");
  g.append("text").attr("transform",`translate(${o.tx},${o.ty}) rotate(-90)`).attr("text-anchor","middle").attr("font-size",6.8).attr("fill","#444").text("Chromosome");
  svg.append("text").attr("x",27).attr("y",o.ly).attr("font-size",12).attr("fill","#111").text(o.letter);
}
chromPanel({x0:20.7,x1:335.7,y0:181,y1:20.7,edges:chromEdgesA,rows:transA,off:cisOffA,tx:10.5,ty:100,ly:12,letter:"A"});
chromPanel({x0:20.3,x1:335.7,y0:396,y1:235,edges:chromEdgesB,rows:transB,off:cisOffB,tx:8.5,ty:315,ly:227,letter:"B"});

function lodPanel(o){
  const g=svg.append("g").attr("filter","url(#soft)");
  const x=d3.scaleLinear().domain([-100,100]).range(o.xr);
  const y=d3.scaleLinear().domain(o.yd).range(o.yr);
  const L=o.left,R=o.right,T=o.top,B=o.bottom;
  g.append("rect").attr("x",L).attr("y",T).attr("width",R-L).attr("height",B-T).attr("fill","#fff");
  [-150,-100,-50,0,50,100,150].forEach(v=>{ if(x(v)>L&&x(v)<R) g.append("line").attr("x1",x(v)).attr("x2",x(v)).attr("y1",T).attr("y2",B).attr("stroke","#efefef").attr("stroke-width",v%100==0?.6:.35);});
  o.gridY.forEach(v=>g.append("line").attr("y1",y(v)).attr("y2",y(v)).attr("x1",L).attr("x2",R).attr("stroke","#efefef").attr("stroke-width",.5));
  const tp=o.trans.flatMap(r=>r.slice(1).map(v=>[v,r[0]]));
  const cp=o.cis.flatMap(r=>r.slice(1).map(v=>[v,r[0]]));
  g.selectAll(null).data(tp).join("circle").attr("cx",d=>x(d[0])).attr("cy",d=>y(d[1])).attr("r",.72).attr("fill","#111");
  g.selectAll(null).data(cp).join("circle").attr("cx",d=>x(d[0])).attr("cy",d=>y(d[1])).attr("r",.8).attr("fill","#2088f0");
  [-5,5].forEach(v=>g.append("line").attr("x1",x(v)).attr("x2",x(v)).attr("y1",T).attr("y2",B).attr("stroke","#d9604a").attr("stroke-width",.7).attr("stroke-dasharray","1 1"));
  g.append("rect").attr("x",L).attr("y",T).attr("width",R-L).attr("height",B-T).attr("fill","none").attr("stroke","#b4b4b4").attr("stroke-width",.9);
  xTicksLod.forEach(v=>g.append("text").attr("x",x(v)).attr("y",B+4.7).attr("text-anchor","middle").attr("font-size",3.6).attr("fill",G).text(v));
  o.yTicks.forEach(v=>g.append("text").attr("x",L-1.8).attr("y",y(v)+1.3).attr("text-anchor","end").attr("font-size",3.6).attr("fill",G).text(v));
  g.append("text").attr("x",o.xr[0]/2+o.xr[1]/2).attr("y",o.tb).attr("text-anchor","middle").attr("font-size",5.4).attr("fill","#444").text("eQTL peak-to-probe distance (Mbp)");
  g.append("text").attr("transform",`translate(${o.lx},${(T+B)/2}) rotate(-90)`).attr("text-anchor","middle").attr("font-size",5.4).attr("fill","#444").text("LOD");
  g.append("text").attr("x",o.titleX).attr("y",o.titleY).attr("font-size",o.titleS).attr("fill","#444").text(o.title);
  svg.append("text").attr("x",342).attr("y",o.ly).attr("font-size",14).attr("style","font-family:Lato").attr("fill","#111").text(o.letter);
}
lodPanel({xr:[393.7,507.7],yd:[20,80],yr:[162.7,23.7],left:357.7,right:544.3,top:20,bottom:200,trans:transC,cis:cisC,yTicks:yTicksC,gridY:[10,20,30,40,50,60,70,80],tb:212.5,lx:348.5,title:"HFCA Subset Model - 93.81%",titleX:357,titleY:18,titleS:6.9,ly:13,letter:"C"});
lodPanel({xr:[396.3,508.3],yd:[10,30],yr:[388.3,276.7],left:360.3,right:544.3,top:235.3,bottom:411,trans:transD,cis:cisD,yTicks:yTicksD,gridY:[10,15,20,25,30,35],tb:423,lx:351,title:"HP Subset Model - 92.32%",titleX:360.5,titleY:233,titleS:6.9,ly:228,letter:"D"});

function venn(o){
  const g=svg.append("g");
  const totA=o.d.a+o.d.both, totB=o.d.b+o.d.both;
  const r=d3.scaleSqrt().domain([0,totA]).range([0,o.ra]);
  const id="clip"+o.letter;
  defs.append("clipPath").attr("id",id).append("circle").attr("cx",o.cb).attr("cy",o.cy).attr("r",r(totB));
  g.append("circle").attr("cx",o.ca).attr("cy",o.cy).attr("r",r(totA)).attr("fill","#ff9a9a");
  g.append("circle").attr("cx",o.cb).attr("cy",o.cy).attr("r",r(totB)).attr("fill","#9a9aff");
  g.append("circle").attr("cx",o.ca).attr("cy",o.cy).attr("r",r(totA)).attr("fill","#9058c8").attr("clip-path",`url(#${id})`);
  const num=(x,y,t)=>g.append("text").attr("x",x).attr("y",y).attr("text-anchor","middle").attr("font-size",o.ns).attr("style","font-family:'Liberation Serif'").attr("fill","#111").text(t);
  num(o.na,o.ny,o.d.a); num(o.nb,o.ny,o.d.b);
  if(o.nc) num(o.nc,o.ny,o.d.both);
  const lab=(x,y,t,a)=>g.append("text").attr("x",x).attr("y",y).attr("text-anchor",a||"start").attr("font-size",12.4).attr("style","font-family:Lato").attr("fill","#111").text(t);
  lab(573,o.hy,"HFCA"); lab(781,o.hp,"HP","end");
  lab(o.lx,o.ly,o.letter);
  g.append("line").attr("x1",567).attr("x2",771).attr("y1",o.ry).attr("y2",o.ry).attr("stroke","#888").attr("stroke-width",.8);
  const t=g.append("text").attr("x",o.tx).attr("y",o.ty).attr("text-anchor","middle").attr("font-size",12.8).attr("style","font-family:Lato").attr("fill","#111");
  t.append("tspan").attr("font-style","italic").text(o.ti); t.append("tspan").text("QTL");
}
venn({letter:"E",d:vennE,ca:662.3,cb:706.7,cy:117.3,ra:83.3,na:611.3,nb:757,nc:695,ny:120.7,ns:9.6,hy:49,hp:47.5,lx:556,ly:13,ry:26,tx:675,ty:20,ti:"Cis-e"});
venn({letter:"F",d:vennF,ca:619.7,cb:727,cy:350.7,ra:61.3,na:617,nb:731,ny:354.3,ns:10.5,hy:257,hp:255,lx:556,ly:227,ry:231,tx:684,ty:224.5,ti:"Trans-e"});
svg.append("line").attr("x1",678.7).attr("x2",678.7).attr("y1",306.7).attr("y2",351).attr("stroke","#777").attr("stroke-width",.8);
svg.append("text").attr("x",679).attr("y",299).attr("text-anchor","middle").attr("font-size",10.5).attr("style","font-family:'Liberation Serif'").attr("fill","#111").text(vennF.both);
</script></body></html>
